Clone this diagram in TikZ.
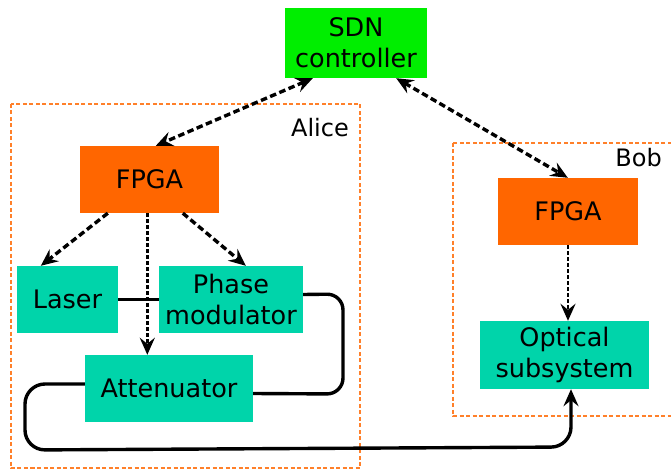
\documentclass[tikz,border=0pt]{standalone}
\usepackage{fontspec}
\setmainfont{DejaVu Sans}
\usetikzlibrary{arrows.meta,calc}
\definecolor{sdngreen}{RGB}{0,238,0}
\definecolor{fpgaorange}{RGB}{255,102,0}
\definecolor{devteal}{RGB}{0,212,170}
\definecolor{boxorange}{RGB}{255,128,42}
\tikzset{
  blk/.style={inner sep=0pt, align=center, font=\fontsize{25.5}{31}\selectfont, text=black},
  sdnbox/.style={blk, fill=sdngreen, minimum width=142pt, minimum height=70pt},
  fpgabox/.style={blk, fill=fpgaorange, minimum width=139pt, minimum height=67pt},
  devbox/.style={blk, fill=devteal, minimum height=67pt},
  region/.style={draw=boxorange, line width=2.4pt, dash pattern=on 4pt off 2.5pt},
  lbl/.style={inner sep=0pt, font=\fontsize{24}{28}\selectfont},
  headend/.style={-{Stealth[length=17pt,width=15pt,inset=6pt]}},
  headboth/.style={{Stealth[length=17pt,width=15pt,inset=6pt]}-{Stealth[length=17pt,width=15pt,inset=6pt]}},
  ctrl/.style={line width=3.4pt, dash pattern=on 6.5pt off 3.5pt},
  ctrlfine/.style={line width=2.7pt, dash pattern=on 3.5pt off 2.5pt},
  fiber/.style={line width=3.4pt, rounded corners=16pt},
}
\begin{document}
\begin{tikzpicture}[x=1pt,y=-1pt]
\useasboundingbox (0,0) rectangle (671,470);
% regions
\draw[region] (11,104) rectangle (360,468);
\draw[region] (453,143) rectangle (676,416);
\node[lbl, anchor=base east] (alicelbl) at (349,137) {Alice};
\node[lbl, anchor=base east] (boblbl) at (662,167) {Bob};
% blocks
\node[sdnbox] (sdn) at (356,43) {SDN\\controller};
\node[fpgabox] (afpga) at (149.5,179.5) {FPGA};
\node[devbox, minimum width=101pt] (laser) at (67.5,299.5) {Laser};
\node[devbox, minimum width=144pt] (pm) at (231,299.5) {Phase\\modulator};
\node[devbox, minimum width=168pt] (att) at (169,388.5) {Attenuator};
\node[fpgabox, minimum width=140pt] (bfpga) at (568,211.5) {FPGA};
\node[devbox, minimum width=169pt, minimum height=68pt] (opt) at (564.5,355) {Optical\\subsystem};
% control links
\draw[ctrl, headboth] ($(sdn.south west)+(28,0)$) -- ($(afpga.north west)+(76,0)$);
\draw[ctrl, headboth] ($(sdn.south east)+(-31,0)$) -- ($(bfpga.north west)+(70,0)$);
\draw[ctrl, headend] ($(afpga.south west)+(28,0)$) -- ($(laser.north west)+(24,0)$);
\draw[ctrl, headend] ($(afpga.south west)+(103,0)$) -- ($(pm.north west)+(87,0)$);
\coordinate (fpgamid) at ($(afpga.south west)+(67.5,0)$);
\draw[ctrlfine, headend] (fpgamid) -- (fpgamid |- att.north);
\draw[ctrlfine, headend] (bfpga.south) -- (bfpga.south |- opt.north);
% optical fiber
\draw[line width=3.4pt] (laser.east) -- (pm.west);
\coordinate (pmout) at ($(pm.east)+(0,-5)$);
\coordinate (attout) at ($(att.east)+(0,5)$);
\coordinate (attin) at ($(att.west)+(0,-4.5)$);
\coordinate (optin) at ($(opt.south)+(6.5,0)$);
\draw[fiber] (pmout) -- (343,294) -- (343,394) -- (attout);
\draw[fiber, headend, rounded corners=20pt] (attin) -- (25,384) -- (25,450) -- (571,447) [rounded corners=0pt] -- (optin);
\end{tikzpicture}
\end{document}
